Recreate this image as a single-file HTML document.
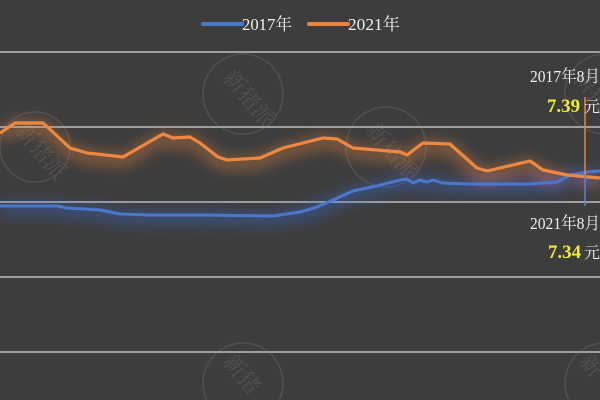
<!DOCTYPE html>
<html><head><meta charset="utf-8"><style>
html,body{margin:0;padding:0;background:#3d3d3d;width:600px;height:400px;overflow:hidden;}
svg{display:block;}
text{font-family:"Liberation Serif","Noto Serif CJK SC",serif;}
</style></head><body>
<svg width="600" height="400" viewBox="0 0 600 400" xmlns="http://www.w3.org/2000/svg" overflow="hidden">
<defs>
<filter id="glow" x="-10%" y="-50%" width="120%" height="200%"><feGaussianBlur stdDeviation="7"/></filter>
</defs>
<rect width="600" height="400" fill="#3d3d3d"/>
<!-- watermarks -->
<g stroke="#515151" stroke-width="1.5" fill="none">
<circle cx="243" cy="94" r="40"/><circle cx="35" cy="147" r="35"/><circle cx="386" cy="147" r="40"/>
<path d="M600,54.3 A40 40 0 0 0 600,133.7"/>
<path d="M206.8,400 A40 40 0 1 1 279.2,400"/>
<path d="M600,343.3 A40 40 0 0 0 568.8,400"/>
</g>
<g fill="#515151" font-size="22" style="font-family:'Noto Sans CJK SC',sans-serif">
<text transform="translate(222,78) rotate(50)">新猪派</text>
<text transform="translate(14,131) rotate(50)">新猪派</text>
<text transform="translate(365,131) rotate(50)">新猪派</text>
<text transform="translate(572,78) rotate(50)">新猪</text>
<text transform="translate(222,362) rotate(50)">新猪</text>
<text transform="translate(578,362) rotate(50)">新</text>
</g>
<!-- gridlines -->
<g stroke="#9e9e9e" stroke-width="2">
<line x1="0" y1="52" x2="600" y2="52"/>
<line x1="0" y1="127" x2="600" y2="127"/>
<line x1="0" y1="202" x2="600" y2="202"/>
<line x1="0" y1="277" x2="600" y2="277"/>
<line x1="0" y1="352" x2="600" y2="352"/>
</g>
<!-- legend -->
<line x1="203" y1="24" x2="242" y2="24" stroke="#4a78c8" stroke-width="4" stroke-linecap="round"/>
<text x="242" y="30" font-size="17" fill="#f0f0f0" textLength="50" lengthAdjust="spacingAndGlyphs">2017年</text>
<line x1="309" y1="24" x2="348" y2="24" stroke="#e8843c" stroke-width="4" stroke-linecap="round"/>
<text x="348" y="30" font-size="17" fill="#f0f0f0" textLength="52" lengthAdjust="spacingAndGlyphs">2021年</text>
<!-- glows -->
<g filter="url(#glow)" opacity="0.55" fill="none" stroke-width="10">
<polyline stroke="#e8843c" points="0,137 15,127 43,127 70,152 87,157 123,161 163,138 173,142 190,141 200,147 218,161 227,164 260,162 283,152 323,142 337,143 353,152 377,154 400,156 407,159 423,147 450,148 460,157 477,172 487,175 530,165 543,174 567,178 600,182"/>
<polyline stroke="#3a6ad8" points="0,209 57,209 67,211 100,213 120,217 150,218 200,218 273,219 300,215 317,210 333,203 353,194 377,189 400,183 407,182 413,186 420,183 427,185 433,183 443,186 467,187 530,187 557,185 570,178 587,175 600,174"/>
</g>
<!-- series -->
<polyline fill="none" stroke="#4a78cc" stroke-width="3" stroke-linejoin="round" points="0,206 57,206 67,208 100,210 120,214 150,215 200,215 273,216 300,212 317,207 333,200 353,191 377,186 400,180 407,179 413,183 420,180 427,182 433,180 443,183 467,184 530,184 557,182 570,175 587,172 600,171"/>
<polyline fill="none" stroke="#ee8840" stroke-width="3.2" stroke-linejoin="round" points="0,133 15,123 43,123 70,148 87,153 123,157 163,134 173,138 190,137 200,143 218,157 227,160 260,158 283,148 323,138 337,139 353,148 377,150 400,152 407,155 423,143 450,144 460,153 477,168 487,171 530,161 543,170 567,175 600,178"/>
<!-- marker line -->
<line x1="585" y1="97" x2="585" y2="175" stroke="#e8843c" stroke-width="1.5"/>
<line x1="585" y1="175" x2="585" y2="206" stroke="#5a86d0" stroke-width="1.5"/>
<!-- annotations -->
<text x="530" y="82" font-size="17" fill="#f0f0f0" textLength="70" lengthAdjust="spacingAndGlyphs">2017年8月</text>
<text x="547" y="112" font-size="19" font-weight="bold" fill="#f2ee2a" textLength="33" lengthAdjust="spacingAndGlyphs">7.39</text>
<text x="584" y="112" font-size="16" fill="#f0f0f0">元</text>
<text x="530" y="229" font-size="17" fill="#f0f0f0" textLength="70" lengthAdjust="spacingAndGlyphs">2021年8月</text>
<text x="548" y="258" font-size="19" font-weight="bold" fill="#f2ee2a" textLength="33" lengthAdjust="spacingAndGlyphs">7.34</text>
<text x="584" y="258" font-size="16" fill="#f0f0f0">元</text>
</svg>
</body></html>
